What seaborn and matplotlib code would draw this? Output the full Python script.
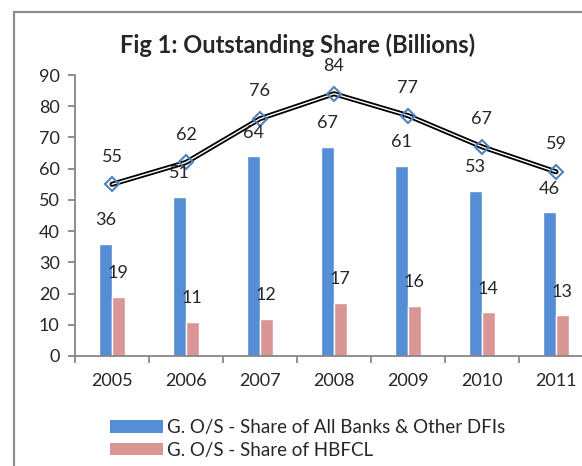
import numpy as np
import pandas as pd
import matplotlib
matplotlib.use("Agg")
import matplotlib.pyplot as plt
import seaborn as sns
from matplotlib.patches import Rectangle, Patch

# data
years = ["2005", "2006", "2007", "2008", "2009", "2010", "2011"]
banks_share = [36, 51, 64, 67, 61, 53, 46]
hbfcl_share = [19, 11, 12, 17, 16, 14, 13]
total_share = [55, 62, 76, 84, 77, 67, 59]
series_names = ["G. O/S - Share of All Banks & Other DFIs", "G. O/S - Share of HBFCL"]
y_ticks = [0, 10, 20, 30, 40, 50, 60, 70, 80, 90]

blue = "#558ED5"
pink = "#D99694"
marker_blue = "#4F81BD"
grey = "#868686"
fs = 13

sns.set_style("white")
plt.rcParams["font.family"] = ["Lato", "DejaVu Sans"]

df = pd.DataFrame({
    "year": years * 2,
    "value": banks_share + hbfcl_share,
    "series": [series_names[0]] * len(years) + [series_names[1]] * len(years),
})

W, H = 582, 466
fig = plt.figure(figsize=(W / 100, H / 100), dpi=100)
ax = fig.add_axes([75 / W, 1 - 356 / H, (593 - 75) / W, (356 - 75) / H])

# bars
sns.barplot(data=df, x="year", y="value", hue="series", palette=[blue, pink],
            width=0.34, saturation=1, ax=ax, legend=False)
for cont in ax.containers:
    for p in cont:
        ax.annotate(f"{p.get_height():.0f}", (p.get_x() + p.get_width() / 2, p.get_height()),
                    xytext=(0, 17), textcoords="offset points",
                    ha="center", va="center", fontsize=fs)

# double line with open diamonds
xpos = np.arange(len(years))
sns.lineplot(x=xpos, y=total_share, color="black", linewidth=3.6, ax=ax)
sns.lineplot(x=xpos, y=total_share, color="white", linewidth=1.0, ax=ax)
sns.lineplot(x=xpos, y=total_share, color=marker_blue, linewidth=0, marker="D",
             markersize=7, markerfacecolor="none", markeredgecolor=marker_blue,
             markeredgewidth=1.5, ax=ax)
for x, v in zip(xpos, total_share):
    ax.annotate(str(v), (x, v), xytext=(0, 20), textcoords="offset points",
                ha="center", va="center", fontsize=fs)

ax.set_xlim(-0.5, len(years) - 0.5)
ax.set_ylim(0, 90)
ax.set_yticks(y_ticks)
ax.set_xticks(xpos)
ax.set_xticklabels(years)
ax.set_xticks(np.arange(len(years) + 1) - 0.5, minor=True)
ax.set_xlabel("")
ax.set_ylabel("")
ax.tick_params(axis="x", which="major", length=0, pad=12, labelsize=fs)
ax.tick_params(axis="x", which="minor", length=5, width=1.3, color=grey, direction="out")
ax.tick_params(axis="y", length=5, width=1.3, color=grey, direction="out", pad=6, labelsize=fs)
ax.xaxis.set_tick_params(bottom=True, which="both")
ax.yaxis.set_tick_params(left=True)
for s in ["top", "right"]:
    ax.spines[s].set_visible(False)
for s in ["left", "bottom"]:
    ax.spines[s].set_color(grey)
    ax.spines[s].set_linewidth(1.3)

fig.text(298 / W, 1 - 45 / H, "Fig 1: Outstanding Share (Billions)",
         ha="center", va="center", fontsize=17, fontweight="bold")

handles = [Patch(facecolor=blue, edgecolor="none"), Patch(facecolor=pink, edgecolor="none")]
fig.legend(handles, series_names, loc="upper left", bbox_to_anchor=(110 / W, 1 - 419 / H),
           frameon=False, fontsize=fs + 0.5, handlelength=2.8, handleheight=0.65,
           handletextpad=0.25, labelspacing=0.3, borderpad=0, borderaxespad=0)

# outer chart frame (cropped on the right and bottom)
fig.patches.append(Rectangle((14 / W, -0.1), 1.0, 1.1 - 12 / H, transform=fig.transFigure,
                             fill=False, edgecolor="#8c8c8c", linewidth=1.6))

fig.savefig("out.png", dpi=100)
